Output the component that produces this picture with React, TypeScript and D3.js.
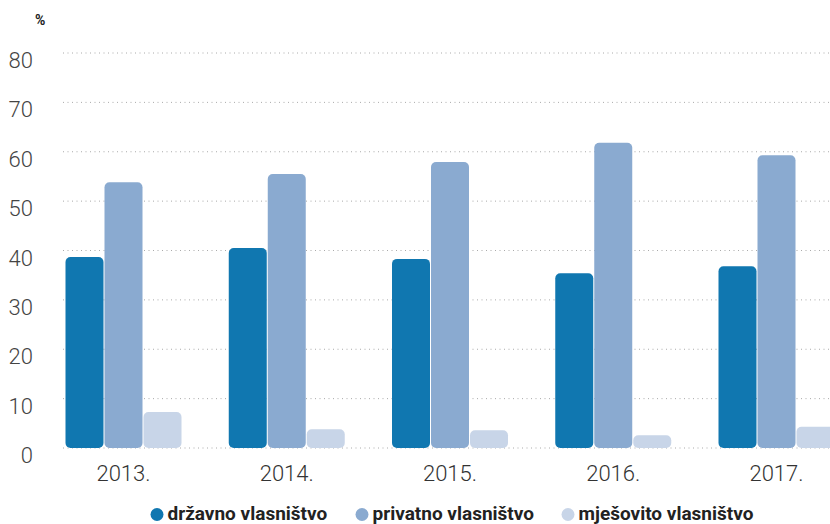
import React from "react";
import * as d3 from "d3";

const years = ["2013.", "2014.", "2015.", "2016.", "2017."];
const seriesNames = ["državno vlasništvo", "privatno vlasništvo", "mješovito vlasništvo"];
const drzavno = [38.7, 40.5, 38.3, 35.4, 36.8];
const privatno = [53.8, 55.5, 57.9, 61.8, 59.3];
const mjesovito = [7.3, 3.8, 3.6, 2.6, 4.3];
const yTicks = [0, 10, 20, 30, 40, 50, 60, 70, 80];
const colors = ["#1077b0", "#8aaad0", "#c8d5e8"];

const W = 830, H = 524;

export default function App() {
  const series = [drzavno, privatno, mjesovito];
  const y = d3.scaleLinear().domain([0, 80]).range([448, 53]);
  const step = 163.25;
  const groupW = 117;
  const pi = (step - groupW) / step;
  const n = years.length;
  const x0 = d3.scaleBand<string>().domain(years)
    .range([65, 65 + step * (n - pi)]).paddingInner(pi).paddingOuter(0);
  const x1 = d3.scaleBand<number>().domain([0, 1, 2]).range([0, x0.bandwidth()]);
  const legendX = [157, 362, 568];
  return (
    <svg width={W} height={H} style={{ position: "absolute", left: 0, top: 0, fontFamily: "Roboto, sans-serif" }}>
      <text x={35} y={25} fontSize={14} fontWeight={700} fill="#222">%</text>
      {yTicks.map((t) => (
        <g key={t}>
          <line x1={63} x2={W} y1={y(t)} y2={y(t)} stroke="#aaa" strokeWidth={1} strokeDasharray="1 3.5" />
          <text x={33} y={y(t) + 15} textAnchor="end" fontSize={22} fontWeight={300} fill="#444">{t}</text>
        </g>
      ))}
      {years.map((yr, i) => (
        <g key={yr} transform={`translate(${x0(yr)},0)`}>
          {series.map((s, j) => (
            <rect key={j} x={x1(j)! + 0.5} width={x1.bandwidth() - 1} y={y(s[i])} height={y(0) - y(s[i])} rx={5} ry={5} fill={colors[j]} />
          ))}
          <text x={x0.bandwidth() / 2} y={481} textAnchor="middle" fontSize={22} fontWeight={300} fill="#333">{yr}</text>
        </g>
      ))}
      {seriesNames.map((nm, j) => (
        <g key={nm}>
          <circle cx={legendX[j]} cy={514.5} r={6.5} fill={colors[j]} />
          <text x={legendX[j] + 10.5} y={520} fontSize={19} fontWeight={700} fill="#222">{nm}</text>
        </g>
      ))}
    </svg>
  );
}
